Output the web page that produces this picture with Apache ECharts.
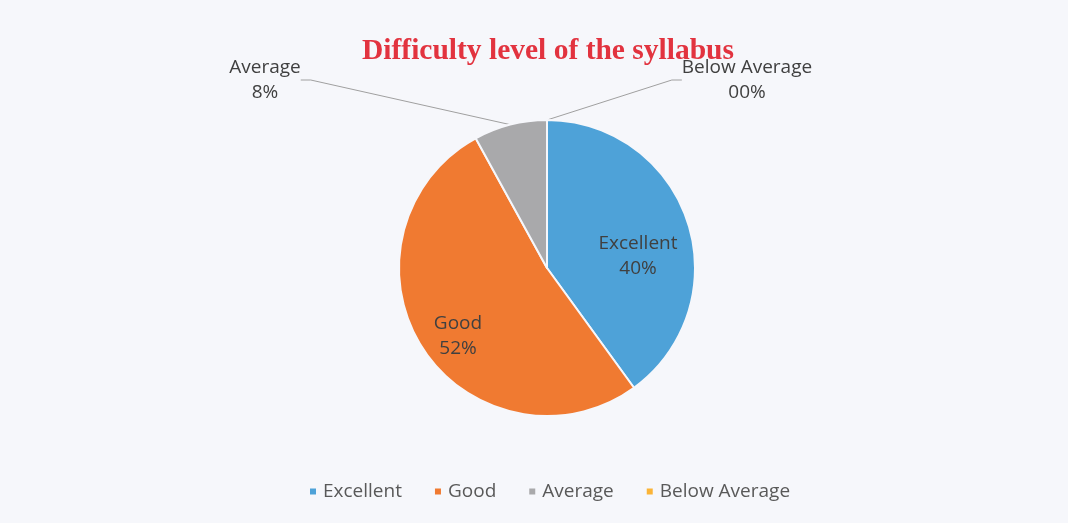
<!DOCTYPE html>
<html>
<head>
<meta charset="utf-8">
<script src="https://cdn.jsdelivr.net/npm/echarts@6/dist/echarts.min.js"></script>
<style>
  html, body { margin: 0; padding: 0; background: #f6f7fb; }
  #chart { width: 1068px; height: 523px; }
</style>
</head>
<body>
<div id="chart"></div>
<script>
const categories = ['Excellent', 'Good', 'Average', 'Below Average'];
const values = [40, 52, 8, 0];
const percentLabels = ['40%', '52%', '8%', '00%'];
const colors = ['#4ea2d8', '#f07a31', '#a9a9ab', '#fbb437'];

// label anchor positions (text centres) in pixels
const labelSpots = [[638, 256], [458, 336], [265, 80], [747, 80]];

const chart = echarts.init(document.getElementById('chart'));
chart.setOption({
  backgroundColor: '#f6f7fb',
  animation: false,
  title: {
    text: 'Difficulty level of the syllabus',
    left: 357,
    top: 31,
    textStyle: {
      fontFamily: '"Liberation Serif", "Times New Roman", serif',
      fontWeight: 'bold',
      fontSize: 29.5,
      color: '#e2333f'
    }
  },
  legend: {
    data: categories,
    bottom: 17,
    left: 303,
    icon: 'rect',
    itemWidth: 8,
    itemHeight: 8,
    itemGap: 31,
    textStyle: {
      fontFamily: '"Open Sans", sans-serif',
      fontSize: 19,
      color: '#595959',
      padding: [0, 0, 0, 1]
    }
  },
  series: [{
    type: 'pie',
    center: [547, 268],
    radius: 148,
    startAngle: 90,
    clockwise: true,
    avoidLabelOverlap: false,
    itemStyle: { borderColor: '#f6f7fb', borderWidth: 2 },
    label: {
      show: true,
      position: 'outside',
      formatter: p => p.name + '\n' + percentLabels[p.dataIndex],
      fontFamily: '"Open Sans", sans-serif',
      fontSize: 19,
      lineHeight: 25,
      color: '#404040',
      align: 'center'
    },
    labelLine: {
      show: true,
      length: 20,
      length2: 10,
      lineStyle: { color: '#a0a0a0', width: 1 }
    },
    labelLayout: function (params) {
      const s = labelSpots[params.dataIndex];
      return { x: s[0], y: s[1], align: 'center', verticalAlign: 'middle' };
    },
    data: categories.map((c, i) => ({
      name: c,
      value: values[i],
      itemStyle: { color: colors[i] },
      labelLine: { show: i >= 2 }
    }))
  }]
});
</script>
</body>
</html>
